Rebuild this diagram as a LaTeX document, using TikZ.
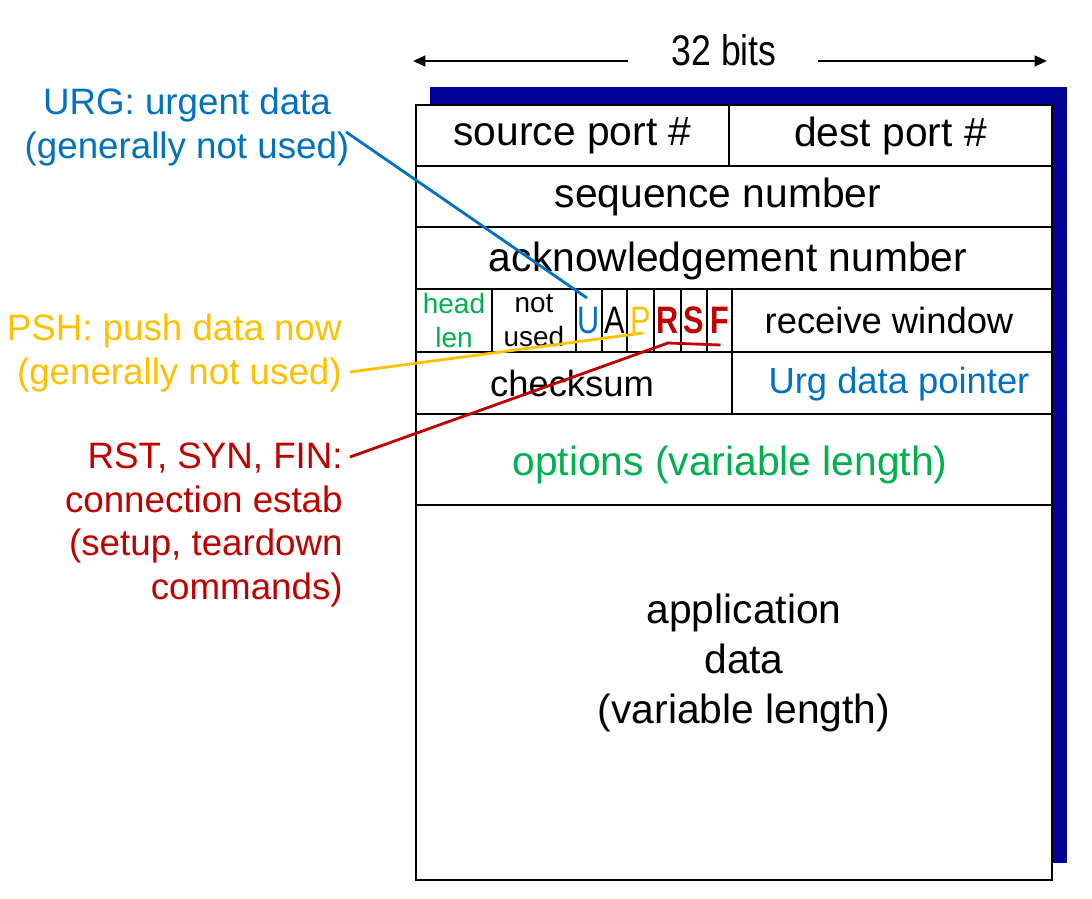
\documentclass[tikz,border=0pt]{standalone}
\usepackage{fontspec}
\setmainfont{Liberation Sans}
\usepackage{graphicx}
\usepackage{xcolor}
\usetikzlibrary{calc}
\usetikzlibrary{arrows.meta}
\definecolor{urgblue}{HTML}{0070C0}
\definecolor{pshgold}{HTML}{FFC000}
\definecolor{rstred}{HTML}{C00000}
\definecolor{optgreen}{HTML}{00B050}
\definecolor{shadowblue}{HTML}{000099}
\newcommand{\flagtxt}[1]{\scalebox{0.8}[1]{#1}}
\tikzset{cell/.style={draw=black,line width=1.1pt,inner sep=0pt,
   font=\fontsize{23.2}{28}\selectfont},
 wh/.style 2 args={minimum width=#1*0.02cm,minimum height=#2*0.02cm},
 bigtext/.style={inner sep=0pt,align=center,font=\fontsize{23.2}{28.3}\selectfont},
 smallcell/.style={align=center,font=\fontsize{15.9}{19.8}\selectfont},
 midcell/.style={font=\fontsize{20.7}{25}\selectfont},
 flagcell/.style={font=\fontsize{21.8}{25}\selectfont},
 sidelabel/.style={inner sep=0pt,font=\fontsize{20.9}{24.9}\selectfont},
 link/.style={line width=1.6pt},
 widtharrow/.style={line width=1.4pt,-{Triangle[length=7pt,width=6pt]}},
 segframe/.style={draw=black,line width=1.5pt},
 }

\begin{document}
\begin{tikzpicture}[x=0.02cm,y=-0.02cm]
    \useasboundingbox (0,0) rectangle (1092,899);
    % shadow behind the segment
    \fill[shadowblue] (430,87) rectangle (1067,863);
    \fill[white] (416,105) rectangle (1052,880);
    % header fields
    \node[cell,wh={313}{61}] (srcport) at (572.5,135.5) {source port \#};
    \node[cell,wh={323}{61}] (dstport) at (890.5,135.5) {dest port \#};
    \node[cell,wh={636}{61}] (seqcell) at (734,196.5) {};
    \node[bigtext] (seqnum) at (718,197) {sequence number};
    \node[cell,wh={636}{62}] (ackcell) at (734,258) {};
    \node[bigtext] (acknum) at (728,261) {acknowledgement number};
    \node[cell,smallcell,wh={76}{63},text=optgreen] (headlen) at (454,320.5) {head\\len};
    \node[cell,smallcell,wh={84}{63}] (notused) at (534,320.5) {not\\used};
    \node[cell,flagcell,wh={26}{63},text=urgblue] (flagU) at (589,320.5) {\flagtxt{U}};
    \node[cell,flagcell,wh={25}{63}] (flagA) at (614.5,320.5) {\flagtxt{A}};
    \node[cell,flagcell,wh={27}{63},text=pshgold] (flagP) at (640.5,320.5) {\flagtxt{P}};
    \node[cell,flagcell,wh={27}{63},text=rstred] (flagR) at (667.5,320.5) {\flagtxt{\bfseries R}};
    \node[cell,flagcell,wh={26}{63},text=rstred] (flagS) at (694,320.5) {\flagtxt{\bfseries S}};
    \node[cell,flagcell,wh={25}{63},text=rstred] (flagF) at (719.5,320.5) {\flagtxt{\bfseries F}};
    \node[cell,midcell,wh={320}{63}] (rcvwin) at (892,320.5) {receive window\hspace*{0.12cm}};
    \node[cell,midcell,wh={316}{62}] (checksum) at (574,383) {checksum\hspace*{0.08cm}};
    \node[cell,midcell,wh={320}{62},text=urgblue] (urgcell) at (892,383) {};
    \node[midcell,inner sep=0pt,text=urgblue] (urgptr) at (899,384) {Urg data pointer};
    \node[cell,wh={636}{91}] (optcell) at (734,459.5) {};
    \node[bigtext,text=optgreen] (options) at (730,465) {options (variable length)};
    \node[cell,wh={636}{375}] (appcell) at (734,692.5) {};
    \node[bigtext] (appdata) at (744,663) {application\\data\\(variable length)};
    \draw[segframe] (416,105) rectangle (1052,880);
    % width of a row
    \node[inner sep=0pt,font=\fontsize{24.4}{28}\selectfont] (bits) at (724,50) {\scalebox{0.83}[1]{32 bits}};
    \coordinate (leftend) at (413,61);
    \coordinate (rightend) at (1047,61);
    \draw[widtharrow] ($(bits.west)+(-43.5,11)$) -- (leftend);
    \draw[widtharrow] ($(bits.east)+(41.5,11)$) -- (rightend);
    % flag notes
    \node[sidelabel,text=urgblue,align=center] (urglbl) at (187,127)
        {URG: urgent data\\(generally not used)};
    \node[sidelabel,text=pshgold,align=right,anchor=east] (pshlbl) at (342,353)
        {PSH: push data now\\(generally not used)};
    \node[sidelabel,text=rstred,align=right,anchor=east] (rstlbl) at (343,525)
        {RST, SYN, FIN:\\connection estab\\(setup, teardown\\commands)};
    \draw[link,urgblue] ($(urglbl.east)+(-3.5,5)$) -- ($(flagU.center)+(-2,-22.5)$);
    \draw[link,pshgold] ($(pshlbl.east)+(8,19)$) -- ($(flagP.center)+(2.5,12.5)$);
    \draw[link,rstred] ($(rstlbl.east)+(7,-68)$) -- ($(flagR.center)+(0.5,22.5)$)
        -- ($(flagF.center)+(1,24.5)$);
\end{tikzpicture}
\end{document}
